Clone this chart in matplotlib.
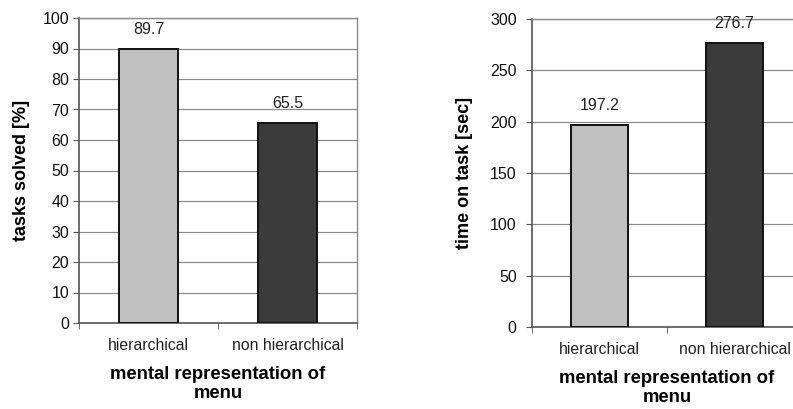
import matplotlib
matplotlib.use("Agg")
import matplotlib.pyplot as plt

plt.rcParams['font.family'] = ['Liberation Sans', 'DejaVu Sans']

categories = ["hierarchical", "non hierarchical"]
tasks_solved = [89.7, 65.5]
time_on_task = [197.2, 276.7]
bar_colors = ["#c0c0c0", "#3b3b3b"]

fig = plt.figure(figsize=(7.93, 4.09), dpi=100)

def style(ax, values, ymax, ystep, ylabel, ypad, ylabelpad, right_spine=True):
    x = list(range(len(categories)))
    ax.bar(x, values, width=0.42, color=bar_colors, edgecolor="#111111",
           linewidth=1.4, zorder=3)
    for xi, v in zip(x, values):
        ax.annotate(f"{v:.1f}", (xi, v), xytext=(0, 14), textcoords="offset points",
                    ha="center", va="center", fontsize=11.5, color="#222222")
    ax.set_xlim(-0.5, len(categories) - 0.5)
    ax.set_ylim(0, ymax)
    ax.set_yticks(range(0, ymax + 1, ystep))
    ax.yaxis.grid(True, color="#8a8a8a", linewidth=0.9, zorder=0)
    ax.set_axisbelow(True)
    ax.set_xticks(x)
    ax.set_xticklabels(categories, fontsize=11.3, color="#222222")
    ax.set_xticks([i - 0.5 for i in range(len(categories) + 1)], minor=True)
    ax.tick_params(axis="x", which="major", length=0, pad=11)
    ax.tick_params(axis="x", which="minor", length=4, color="#555555")
    ax.tick_params(axis="y", length=4, color="#555555", labelsize=11.5,
                   labelcolor="#111111", pad=ypad)
    for s in ["top", "right"]:
        ax.spines[s].set_color("#8a8a8a")
        ax.spines[s].set_linewidth(1.0)
    ax.spines["right"].set_visible(right_spine)
    ax.spines["left"].set_color("#555555")
    ax.spines["left"].set_linewidth(1.2)
    ax.spines["bottom"].set_color("#555555")
    ax.spines["bottom"].set_linewidth(1.2)
    ax.set_ylabel(ylabel, fontsize=13, fontweight="bold", labelpad=ylabelpad)
    ax.set_xlabel("mental representation of\nmenu", fontsize=13.3, fontweight="bold",
                  labelpad=9, linespacing=1.2)

ax1 = fig.add_axes([79 / 793, 1 - 323 / 409, 278 / 793, 305 / 409])
style(ax1, tasks_solved, 100, 10, "tasks solved [%]", 3, 9)

ax2 = fig.add_axes([532 / 793, 1 - 327 / 409, 270 / 793, 308 / 409])
style(ax2, time_on_task, 300, 50, "time on task [sec]", 7, 12, right_spine=False)

fig.savefig("out.png", dpi=100)
